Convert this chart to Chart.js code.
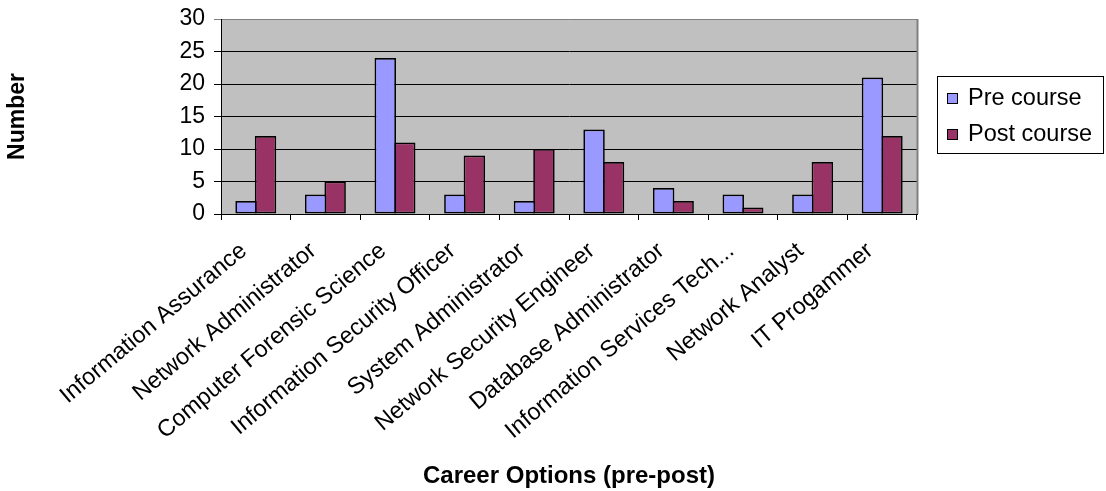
<!DOCTYPE html>
<html>
<head>
<meta charset="utf-8">
<script src="https://cdn.jsdelivr.net/npm/chart.js@4/dist/chart.umd.min.js"></script>
<style>
  html, body { margin: 0; padding: 0; background: #ffffff; }
  #wrap { width: 1106px; height: 491px; }
</style>
</head>
<body>
<div id="wrap"><canvas id="chart" width="1106" height="491"></canvas></div>
<script>
// Career options chosen by students before and after the course
const categories = [
  'Information Assurance',
  'Network Administrator',
  'Computer Forensic Science',
  'Information Security Officer',
  'System Administrator',
  'Network Security Engineer',
  'Database Administrator',
  'Information Services Tech...',
  'Network Analyst',
  'IT Progammer'
];
const preCourse  = [2, 3, 24, 3, 2, 13, 4, 3, 3, 21];
const postCourse = [12, 5, 11, 9, 10, 8, 2, 1, 8, 12];
const seriesNames = ['Pre course', 'Post course'];
const yTickValues = [0, 5, 10, 15, 20, 25, 30];
const yAxisTitle = 'Number';
const xAxisTitle = 'Career Options (pre-post)';

const FONT = "'Liberation Sans', Arial, sans-serif";

// grey plot area behind the bars
const plotBackground = {
  id: 'plotBackground',
  beforeDraw(chart) {
    const { ctx, chartArea: a } = chart;
    ctx.save();
    ctx.fillStyle = '#C0C0C0';
    ctx.fillRect(a.left, a.top, a.right - a.left, a.bottom - a.top);
    ctx.restore();
  }
};

// grey frame on the right side of the plot area
const plotFrame = {
  id: 'plotFrame',
  afterDraw(chart) {
    const { ctx, chartArea: a } = chart;
    ctx.save();
    ctx.strokeStyle = '#808080';
    ctx.lineWidth = 2;
    ctx.beginPath();
    ctx.moveTo(Math.round(a.right) + 0.5, a.top);
    ctx.lineTo(Math.round(a.right) + 0.5, a.bottom);
    ctx.stroke();
    ctx.restore();
  }
};

// boxed legend to the right of the plot
const boxedLegend = {
  id: 'boxedLegend',
  afterDraw(chart) {
    const { ctx } = chart;
    const x0 = 937.5, y0 = 76.5, w = 166, h = 77;
    ctx.save();
    ctx.fillStyle = '#ffffff';
    ctx.fillRect(x0, y0, w, h);
    ctx.strokeStyle = '#000000';
    ctx.lineWidth = 1;
    ctx.strokeRect(x0, y0, w, h);
    ctx.font = '23.5px ' + FONT;
    ctx.textBaseline = 'middle';
    ctx.textAlign = 'left';
    chart.data.datasets.forEach((ds, i) => {
      const cy = 98 + i * 36;
      ctx.fillStyle = ds.backgroundColor;
      ctx.fillRect(947, cy - 5, 11, 11);
      ctx.strokeStyle = '#000000';
      ctx.strokeRect(947.5, cy - 4.5, 10, 10);
      ctx.fillStyle = '#000000';
      ctx.fillText(ds.label, 968, cy + 1);
    });
    ctx.restore();
  }
};

new Chart(document.getElementById('chart'), {
  type: 'bar',
  data: {
    labels: categories,
    datasets: [
      {
        label: seriesNames[0],
        data: preCourse,
        backgroundColor: '#9999FF',
        borderColor: '#000000',
        borderWidth: 1.7,
        borderSkipped: false,
        categoryPercentage: 0.56,
        barPercentage: 1.1
      },
      {
        label: seriesNames[1],
        data: postCourse,
        backgroundColor: '#993366',
        borderColor: '#000000',
        borderWidth: 1.7,
        borderSkipped: false,
        categoryPercentage: 0.56,
        barPercentage: 1.1
      }
    ]
  },
  options: {
    responsive: false,
    animation: false,
    devicePixelRatio: 1,
    layout: { padding: { left: 4, right: 189, top: 19, bottom: 0 } },
    plugins: {
      legend: { display: false },
      tooltip: { enabled: false }
    },
    scales: {
      x: {
        afterFit(scale) { scale.height = 277; },
        grid: {
          offset: true,
          drawOnChartArea: false,
          drawTicks: true,
          tickLength: 6,
          color: '#000000'
        },
        border: { display: true, color: '#000000', width: 1 },
        ticks: {
          autoSkip: false,
          minRotation: 40,
          maxRotation: 40,
          padding: 17,
          labelOffset: -12,
          color: '#000000',
          font: { family: FONT, size: 23.5 }
        },
        title: {
          display: true,
          text: xAxisTitle,
          color: '#000000',
          font: { family: FONT, size: 24, weight: 'bold' },
          padding: 0
        }
      },
      y: {
        min: yTickValues[0],
        max: yTickValues[yTickValues.length - 1],
        afterFit(scale) {
          scale.width = 217;
          scale.paddingTop = 0;
          scale.paddingBottom = 0;
        },
        afterBuildTicks(scale) {
          scale.ticks = yTickValues.map(v => ({ value: v }));
        },
        grid: {
          drawTicks: true,
          tickLength: 7,
          color: ctx => (ctx.tick && ctx.tick.value === yTickValues[yTickValues.length - 1]) ? '#808080' : '#000000',
          lineWidth: 1
        },
        border: { display: true, color: '#000000', width: 1 },
        ticks: {
          padding: 9,
          color: '#000000',
          font: { family: FONT, size: 23 }
        },
        title: {
          display: true,
          text: yAxisTitle,
          color: '#000000',
          font: { family: FONT, size: 23, weight: 'bold' },
          padding: 0
        }
      }
    }
  },
  plugins: [plotBackground, plotFrame, boxedLegend]
});
</script>
</body>
</html>
